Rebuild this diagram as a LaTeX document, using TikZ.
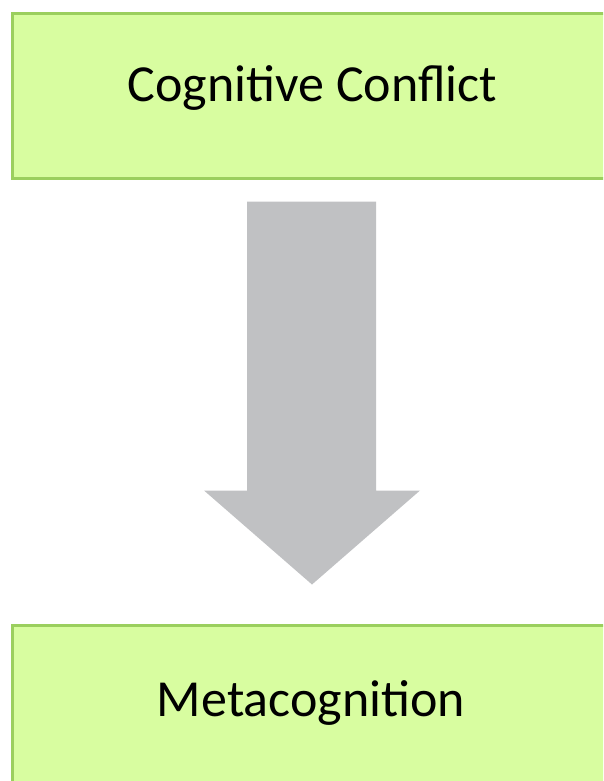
\documentclass[tikz,border=0pt]{standalone}
\usepackage{fontspec}
\setmainfont{Carlito}
\usepackage{xcolor}
\usetikzlibrary{arrows.meta,positioning,calc}
\definecolor{boxfill}{RGB}{216,253,160}
\definecolor{boxline}{RGB}{155,207,94}
\definecolor{arrowgray}{RGB}{192,193,195}

\begin{document}
\begin{tikzpicture}[x=1pt,y=-1pt,
	stagebox/.style={draw=boxline,fill=boxfill,line width=3pt,minimum width=600pt,inner sep=0pt},
	stagetext/.style={anchor=base,inner sep=0pt,font=\fontsize{52}{60}\selectfont}]
	% page frame
	\useasboundingbox (0,0) rectangle (603,781);
	\clip (0,0) rectangle (603,781);
	
	% the two stages
	\node[stagebox,minimum height=164pt] (conflict) at (312,96) {};
	\node[stagebox,minimum height=160pt] (meta) at (312,705) {};
	\node[stagetext] (conflicttext) at (312.5,102) {Cognitive Conflict};
	\node[stagetext] (metatext) at (311,716) {Metacognition};
	
	% wide arrow between them
	\coordinate (tail) at ($(conflict.south)+(0,22)$);
	\coordinate (tip) at ($(meta.north)+(0,-39)$);
	\fill[arrowgray] ($(tail)+(-65,0)$) -- ($(tail)+(64,0)$) -- ($(tip)+(64,-94)$) -- ($(tip)+(108,-94)$)
		-- (tip) -- ($(tip)+(-108,-94)$) -- ($(tip)+(-65,-94)$) -- cycle;
\end{tikzpicture}
\end{document}
